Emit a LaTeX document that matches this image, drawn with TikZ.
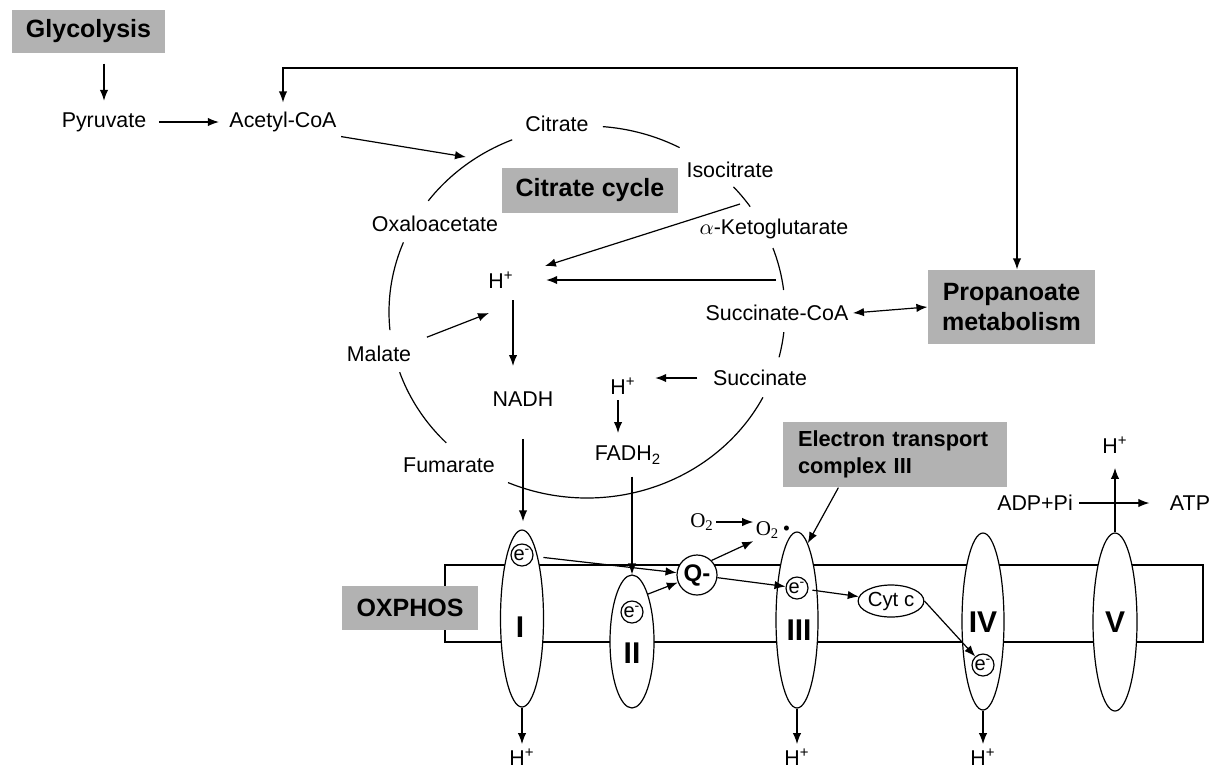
\documentclass[tikz,border=0pt]{standalone}
\usepackage{fontspec}
\setmainfont{Liberation Sans}
\newfontfamily\tnr{Liberation Serif}
\usetikzlibrary{arrows.meta,shapes.geometric,calc}
\begin{document}
\begin{tikzpicture}[x=0.5pt,y=-0.5pt,
  line width=0.6pt,
  >={Latex[length=5.5pt,width=4.2pt]},
  lbl/.style={inner sep=2pt, font=\fontsize{10.7}{12.5}\selectfont},
  hlbl/.style={inner sep=2pt, font=\fontsize{10.7}{12.5}\selectfont},
  gbox/.style={fill=black!30, inner sep=0pt, align=center, font=\fontsize{12.5}{15}\selectfont\bfseries},
  cplx/.style={draw, fill=white, ellipse, inner sep=0pt},
  roman/.style={inner sep=0pt, font=\fontsize{15}{18}\selectfont\bfseries},
  elec/.style={draw, fill=white, circle, inner sep=0pt, minimum size=11pt, font=\fontsize{10}{12}\selectfont},
  oxy/.style={inner sep=1pt, font=\tnr\fontsize{10.5}{12}\selectfont},
]
\useasboundingbox (0,0) rectangle (1215,768);

% ---- citrate cycle (broken ellipse) ----
\draw plot[domain=-143.3:-112.2,samples=20,smooth] ({587+198*cos(\x)},{312+186*sin(\x)});
\draw plot[domain=-85.4:-62.1,samples=20,smooth] ({587+198*cos(\x)},{312+186*sin(\x)});
\draw plot[domain=-42.3:-34.5,samples=10,smooth] ({587+198*cos(\x)},{312+186*sin(\x)});
\draw plot[domain=-20.1:-6.8,samples=15,smooth] ({587+198*cos(\x)},{312+186*sin(\x)});
\draw plot[domain=6.2:14.1,samples=10,smooth] ({587+198*cos(\x)},{312+186*sin(\x)});
\draw plot[domain=27.3:113.5,samples=60,smooth] ({587+198*cos(\x)},{312+186*sin(\x)});
\draw plot[domain=135.3:161.1,samples=20,smooth] ({587+198*cos(\x)},{312+186*sin(\x)});
\draw plot[domain=174.4:202,samples=20,smooth] ({587+198*cos(\x)},{312+186*sin(\x)});

% ---- nodes: metabolism ----
\node[gbox, minimum width=76.5pt, minimum height=21.5pt] (gly) at (88.5,31.5) {Glycolysis};
\node[lbl] (pyr) at (104,122) {Pyruvate};
\node[lbl] (acoa) at (283,122) {Acetyl-CoA};
\node[lbl] (cit) at (557,124) {Citrate};
\node[lbl] (iso) at (730,170) {Isocitrate};
\node[gbox, minimum width=88pt, minimum height=22.5pt] (cc) at (590,190.5) {Citrate cycle};
\node[lbl] (oxa) at (435,224) {Oxaloacetate};
\node[lbl] (akg) at (774,229) {$\alpha$-Ketoglutarate};
\node[hlbl] (hp1) at (501,280) {H\textsuperscript{+}};
\node[lbl] (scoa) at (777,313) {Succinate-CoA};
\node[gbox, minimum width=83.5pt, minimum height=37pt] (prop) at (1011.5,307) {Propanoate\\metabolism};
\node[lbl] (mal) at (379,354) {Malate};
\node[lbl] (succ) at (760,378) {Succinate};
\node[hlbl] (hp2) at (623,386) {H\textsuperscript{+}};
\node[lbl] (nadh) at (523,399) {NADH};
\node[lbl] (fadh) at (628,455) {FADH\textsubscript{2}};
\node[lbl] (fum) at (449,465) {Fumarate};

% ---- membrane and complexes ----
\node[draw, minimum width=379pt, minimum height=38.5pt, inner sep=0pt] (mem) at (824,603.5) {};
\node[gbox, minimum width=68pt, minimum height=22pt] (ox) at (410,608) {OXPHOS};
\node[gbox, minimum width=112pt, minimum height=32.5pt, text width=97pt, inner xsep=7.5pt, align=left,
      font=\fontsize{10.9}{13.5}\selectfont\bfseries] (etc) at (895,454.5) {Electron transport\\complex III};

\node[cplx, minimum width=21.5pt, minimum height=88.5pt] (c1) at (522,618.5) {};
\node[cplx, minimum width=22pt, minimum height=66.5pt] (c2) at (632,641.5) {};
\node[cplx, minimum width=21pt, minimum height=88pt] (c3) at (797,620) {};
\node[cplx, minimum width=21pt, minimum height=88.5pt] (c4) at (983,621.5) {};
\node[cplx, minimum width=22pt, minimum height=89pt] (c5) at (1115,622) {};

\node[roman] (r1) at (520,627) {I};
\node[roman] (r2) at (632,653) {II};
\node[roman] (r3) at (799,630) {III};
\node[roman] (r4) at (983,622) {IV};
\node[roman] (r5) at (1115,622) {V};

\node[elec] (e1) at (522,555) {e\textsuperscript{-}};
\node[elec] (e2) at (632,612) {e\textsuperscript{-}};
\node[elec] (e3) at (797,588) {e\textsuperscript{-}};
\node[elec] (e4) at (983,665) {e\textsuperscript{-}};

\node[draw, fill=white, circle, minimum size=20pt, inner sep=0pt, font=\fontsize{12}{14}\selectfont\bfseries] (q) at (697,575) {Q-};
\node[draw, fill=white, ellipse, minimum width=29pt, minimum height=16pt, inner sep=0pt, font=\fontsize{10.2}{12}\selectfont] (cyt) at (891,601) {Cyt c};

\node[oxy] (o2l) at (702,522) {O\textsubscript{2}};
\node[oxy] (o2r) at (773,530) {O\textsubscript{2}\,\textbullet};

\node[hlbl] (hb1) at (522,757) {H\textsuperscript{+}};
\node[hlbl] (hb3) at (797,757) {H\textsuperscript{+}};
\node[hlbl] (hb4) at (983,757) {H\textsuperscript{+}};
\node[hlbl] (hv) at (1115,445) {H\textsuperscript{+}};
\node[lbl] (adp) at (1035,503) {ADP+Pi};
\node[lbl] (atp) at (1190,503) {ATP};

% ---- helper coordinates ----
\coordinate (cin) at (466,157);
\coordinate (tl) at (283,68);
\coordinate (tr) at (1017,68);
\coordinate (k1) at (740,204);
\coordinate (k2) at (776,280);
\coordinate (mt) at (489,313);
\coordinate (hn) at (513,300);
\coordinate (hnE) at (513,366);
\coordinate (hf) at (618,400);
\coordinate (hfE) at (618,433);

% ---- connectors ----
\draw[->, shorten <=5pt, shorten >=3.5pt] (gly.south -| pyr.north) -- (pyr.north);
\draw[->, shorten <=4pt, shorten >=3pt] (pyr.east) -- (acoa.west);
\draw[->] (acoa.south east) -- (cin);
\draw[<->, shorten <=2.5pt] (acoa.north) -- (tl) -- (tr) -- (tr |- prop.north);
\draw[->, shorten >=14pt] (k1) -- (hp1);
\draw[->, shorten >=14pt] (k2) -- (hp1);
\draw[->, shorten <=6pt] (mal.north east) -- (mt);
\draw[->] (hn) -- (hnE);
\draw[<->] (scoa.east) -- (prop.west);
\draw[->, shorten <=5.5pt, shorten >=7.5pt] (succ.west) -- (succ.west -| hp2.east);
\draw[->] (hf) -- (hfE);
\draw[->, shorten <=14pt, shorten >=4pt] (nadh.south) -- (nadh.south |- c1.north);
\draw[->, shorten <=4pt] (fadh.south -| c2.north) -- (c2.north);

\draw[->, shorten <=5pt] (e1) -- (q);
\draw[->] (c2.north east) -- (q);
\draw[->] (q.north east) -- (o2r.south west);
\draw[->] (o2l.east) -- (o2l.east -| o2r.west);
\draw[->] (q) -- (e3);
\draw[->, shorten <=2pt] (e3) -- (cyt);
\draw[->] (cyt.east) -- (e4);
\draw[->] ([xshift=28pt]etc.south west) -- (c3.82);

\draw[->] (c1.south) -- (hb1.north);
\draw[->] (c3.south) -- (hb3.north);
\draw[->] (c4.south) -- (hb4.north);
\draw[->, shorten >=5pt] (c5.north) -- (hv.south);
\draw[->, shorten <=1pt, shorten >=8pt] (adp.east) -- (atp.west);
\end{tikzpicture}
\end{document}
